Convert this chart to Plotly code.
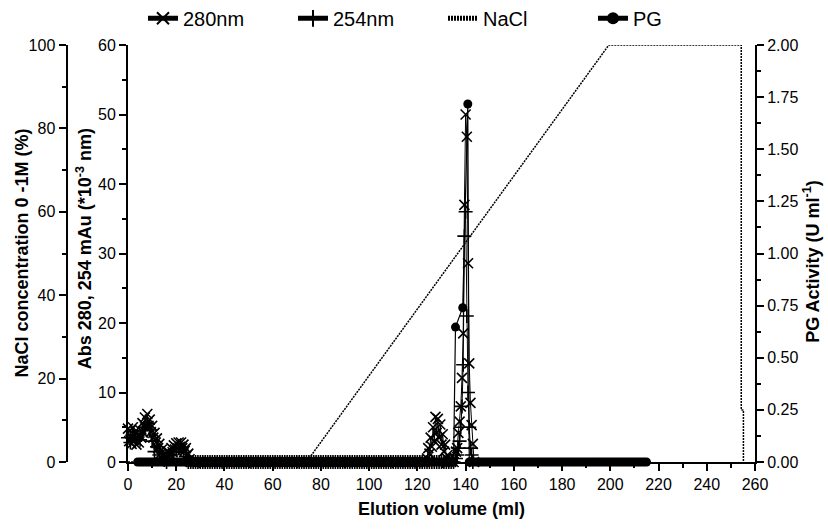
import plotly.graph_objects as go

# ---------------- data ----------------
# Absorbance 280 nm (x10^-3), early fractions
vol_280_a = [0, 0.5, 1, 1.5, 2, 2.5, 3, 3.5, 4, 4.5, 5, 5.5, 6, 6.5, 7, 7.5, 8, 8.5, 9, 9.5,
             10, 10.5, 11, 11.5, 12, 12.5, 13, 13.5, 14, 14.5, 15, 15.5, 16, 16.5, 17, 17.5,
             18, 18.5, 19, 19.5, 20, 20.5, 21, 21.5, 22, 22.5, 23, 23.5, 24, 24.5, 25, 25.5, 26]
abs_280_a = [4.8, 3.0, 4.5, 2.6, 5.0, 3.2, 4.4, 2.5, 3.8, 2.8, 4.6, 3.5, 5.6, 4.2, 6.4, 5.0, 6.9, 5.2, 6.1, 4.3,
             5.2, 3.5, 4.2, 2.8, 3.4, 2.0, 2.6, 1.2, 1.8, 0.8, 1.2, 0.5, 0.9, 0.6, 1.4, 1.0,
             2.0, 1.4, 2.4, 1.8, 2.7, 2.0, 2.8, 2.2, 2.8, 2.0, 2.5, 1.6, 2.0, 1.0, 1.2, 0.4, 0.0]
# flat baseline between the peaks
vol_280_b = list(range(27, 124))
abs_280_b = [0.0] * len(vol_280_b)
# small peak and main peak
vol_280_c = [124, 124.5, 125, 125.5, 126, 126.5, 127, 127.5, 128, 128.5, 129, 129.5, 130, 130.5,
             131, 131.5, 132, 132.5, 133, 134, 135, 135.5, 136, 136.5, 137, 137.5, 138, 138.5,
             139, 139.5, 140, 140.5, 141, 141.5, 142, 142.5, 143, 143.5]
abs_280_c = [0.5, 2.0, 1.2, 3.5, 2.2, 5.0, 3.0, 6.5, 4.2, 6.2, 3.5, 5.4, 2.5, 4.0,
             1.5, 2.5, 0.6, 1.0, 0.0, 0.0, 0.0, 0.5, 1.5, 2.0, 4.2, 5.8, 8.0, 12.1,
             18.5, 37.0, 50.0, 46.8, 28.6, 14.2, 8.5, 5.3, 2.6, 0.0]
vol_280 = vol_280_a + vol_280_b + vol_280_c
abs_280 = abs_280_a + abs_280_b + abs_280_c

# Absorbance 254 nm (x10^-3)
vol_254_a = [0, 1, 2, 3, 4, 5, 6, 7, 8, 9, 10, 11, 12, 13, 14, 15, 16,
             17, 18, 19, 20, 21, 22, 23, 24, 25]
abs_254_a = [3.5, 2.8, 4.0, 3.0, 3.6, 3.2, 4.5, 5.0, 5.5, 4.6, 3.0, 1.5, 2.2, 1.0, 0.5, 0.3, 0.0,
             0.4, 1.0, 1.5, 1.8, 2.0, 1.8, 1.4, 0.8, 0.0]
vol_254_b = list(range(26, 136))
abs_254_b = [0.0] * len(vol_254_b)
vol_254_c = [136, 136.5, 137, 137.5, 138, 138.5, 139, 139.5, 140, 140.5, 141, 141.5, 142, 142.5, 143]
abs_254_c = [0.5, 1.0, 2.0, 3.0, 5.0, 8.0, 14.0, 32.5, 36.0, 21.0, 10.0, 5.0, 2.0, 1.0, 0.0]
vol_254 = vol_254_a + vol_254_b + vol_254_c
abs_254 = abs_254_a + abs_254_b + abs_254_c

# NaCl gradient (% of 0-1 M)
vol_nacl = [0, 74, 199.4, 254.3, 254.3, 255.2, 255.2]
nacl = [0, 0, 100, 100, 12.5, 12.5, 0]

# PG activity (U/ml)
vol_pg_a = list(range(4, 136))
pg_a = [0.0] * len(vol_pg_a)
vol_pg_b = [135.8, 138.8, 140.9, 141.5]
pg_b = [0.647, 0.74, 1.717, 0.0]
vol_pg_c = list(range(142, 216))
pg_c = [0.0] * len(vol_pg_c)
vol_pg = vol_pg_a + vol_pg_b + vol_pg_c
pg = pg_a + pg_b + pg_c

# ---------------- figure ----------------
FONT = "Arial, Liberation Sans, sans-serif"
fig = go.Figure()

fig.add_trace(go.Scatter(
    x=vol_280, y=abs_280, name="280nm", mode="lines+markers", yaxis="y", cliponaxis=False,
    line=dict(color="black", width=1),
    marker=dict(symbol="x-thin", size=10, color="black", line=dict(color="black", width=1.6))))
fig.add_trace(go.Scatter(
    x=vol_254, y=abs_254, name="254nm", mode="lines+markers", yaxis="y", cliponaxis=False,
    line=dict(color="black", width=1),
    marker=dict(symbol="cross-thin", size=10, color="black", line=dict(color="black", width=1.6))))
fig.add_trace(go.Scatter(
    x=vol_nacl, y=nacl, name="NaCl", mode="lines", yaxis="y2", cliponaxis=False,
    line=dict(color="black", width=1.5, dash="2px,1px")))
fig.add_trace(go.Scatter(
    x=vol_pg, y=pg, name="PG", mode="lines+markers", yaxis="y3", cliponaxis=False,
    line=dict(color="black", width=1.2),
    marker=dict(symbol="circle", size=9, color="black")))

L, R = 10, 10
W = 828 - L - R
def px(xpix):
    return (xpix - L) / W

axis_common = dict(showline=True, linewidth=2, linecolor="black", ticks="outside",
                   ticklen=7, tickwidth=2, tickcolor="black", showgrid=False, zeroline=False,
                   tickfont=dict(family=FONT, size=16, color="black"))

fig.update_layout(
    width=828, height=532,
    margin=dict(l=L, r=R, t=45, b=70, autoexpand=False),
    paper_bgcolor="white", plot_bgcolor="white",
    font=dict(family=FONT, color="black"),
    showlegend=True,
    legend=dict(orientation="h", x=px(143), y=1.064, xanchor="left", yanchor="middle",
                font=dict(family=FONT, size=20, color="black"),
                entrywidth=105, entrywidthmode="pixels", bgcolor="rgba(0,0,0,0)",
                itemsizing="constant"),
    xaxis=dict(domain=[px(128), px(755)], range=[0, 260], dtick=20, tick0=0, anchor="y",
               minor=dict(dtick=10, ticks="outside", ticklen=4, tickwidth=1.5, tickcolor="black"),
               **axis_common),
    yaxis=dict(range=[0, 60], dtick=10, tick0=0, anchor="x", side="left",
               minor=dict(dtick=5, ticks="outside", ticklen=4, tickwidth=1.5, tickcolor="black"),
               **axis_common),
    yaxis2=dict(range=[0, 100], dtick=20, tick0=0, overlaying="y", anchor="free",
                position=px(66.5), side="left",
                minor=dict(dtick=10, ticks="outside", ticklen=4, tickwidth=1.5, tickcolor="black"),
                **axis_common),
    yaxis3=dict(range=[0, 2], dtick=0.25, tick0=0, tickformat=".2f", overlaying="y",
                anchor="x", side="right",
                minor=dict(dtick=0.125, ticks="outside", ticklen=4, tickwidth=1.5, tickcolor="black"),
                **axis_common),
)

title_font = dict(family=FONT, size=18, color="black")
fig.add_annotation(text="<b>Elution volume (ml)</b>", xref="paper", yref="paper",
                   x=px(441), y=-47 / 417, xanchor="center", yanchor="middle",
                   showarrow=False, font=title_font)
fig.add_annotation(text="<b>Abs 280, 254 mAu (*10<sup>-3</sup> nm)</b>", xref="paper", yref="paper",
                   x=px(84), y=0.51, xanchor="center", yanchor="middle", textangle=-90,
                   showarrow=False, font=title_font)
fig.add_annotation(text="<b>NaCl concentration 0 -1M (%)</b>", xref="paper", yref="paper",
                   x=px(21), y=0.5, xanchor="center", yanchor="middle", textangle=-90,
                   showarrow=False, font=title_font)
fig.add_annotation(text="<b>PG Activity (U ml<sup>-1</sup>)</b>", xref="paper", yref="paper",
                   x=px(812), y=0.48, xanchor="center", yanchor="middle", textangle=-90,
                   showarrow=False, font=title_font)

fig.write_html("out.html")
